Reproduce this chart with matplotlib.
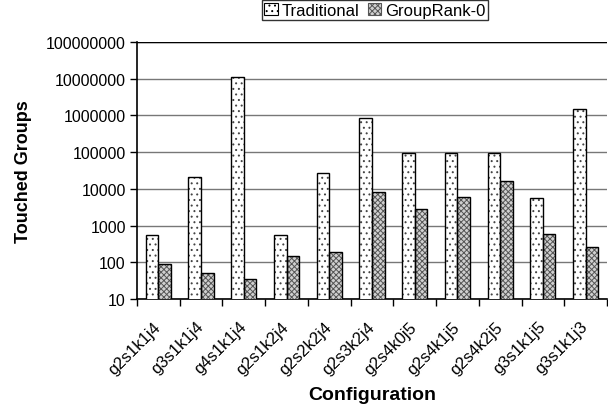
import matplotlib
matplotlib.use("Agg")
import matplotlib.pyplot as plt
import numpy as np
from matplotlib.patches import Patch

plt.rcParams['font.family'] = ['Liberation Sans', 'DejaVu Sans']
plt.rcParams['hatch.linewidth'] = 0.7

configs = ["g2s1k1j4", "g3s1k1j4", "g4s1k1j4", "g2s1k2j4", "g2s2k2j4", "g2s3k2j4",
           "g2s4k0j5", "g2s4k1j5", "g2s4k2j5", "g3s1k1j5", "g3s1k1j3"]
traditional = [565, 21500, 11000000, 565, 27000, 870000, 95000, 95000, 95000, 5550, 1480000]
grouprank0 = [88, 52, 36, 148, 190, 8100, 2800, 6150, 16800, 580, 266]
ytick_vals = [10, 100, 1000, 10000, 100000, 1000000, 10000000, 100000000]

fig = plt.figure(figsize=(6.08, 4.14), dpi=100)
ax = fig.add_axes([0.2253, 0.2754, 0.773, 0.6207])

x = np.arange(len(configs))
w = 0.295
ax.bar(x - w/2, traditional, width=w, bottom=1e-9, facecolor='white', edgecolor='#444444',
       hatch='...', linewidth=0, zorder=3)
ax.bar(x - w/2, traditional, width=w, bottom=1e-9, facecolor='none', edgecolor='black',
       linewidth=1.0, zorder=4)
ax.bar(x + w/2, grouprank0, width=w, bottom=1e-9, facecolor='#d0d0d0', edgecolor='#555555',
       hatch='xxxxxx', linewidth=0, zorder=3)
ax.bar(x + w/2, grouprank0, width=w, bottom=1e-9, facecolor='none', edgecolor='black',
       linewidth=1.0, zorder=4)

h1 = Patch(facecolor='white', edgecolor='black', hatch='...', linewidth=0.8)
h2 = Patch(facecolor='#d0d0d0', edgecolor='#555555', hatch='xxxxxx', linewidth=0.8)

ax.set_yscale('log')
ax.set_ylim(10, 1e8)
ax.set_xlim(-0.5, len(configs) - 0.5)
ax.set_yticks(ytick_vals)
ax.set_yticklabels([str(v) for v in ytick_vals])
ax.yaxis.set_minor_locator(matplotlib.ticker.NullLocator())
ax.tick_params(axis='y', which='major', direction='out', length=5, width=1, labelsize=11.5, pad=3)

ax.set_xticks(x)
ax.set_xticklabels(configs, rotation=45, ha='right', va='center', rotation_mode='anchor',
                   fontsize=12)
ax.tick_params(axis='x', which='major', length=0, pad=18)
ax.set_xticks(np.arange(len(configs) + 1) - 0.5, minor=True)
ax.tick_params(axis='x', which='minor', direction='out', length=5, width=1)

ax.grid(axis='y', which='major', color='#777777', linewidth=1.0, zorder=0)
ax.set_axisbelow(True)
for s in ['top', 'right']:
    ax.spines[s].set_visible(False)
for s in ['left', 'bottom']:
    ax.spines[s].set_linewidth(1.2)
ax.axhline(1e8, color='black', linewidth=1.0, zorder=1)

ax.set_xlabel('Configuration', fontsize=14, fontweight='bold', labelpad=7)
ax.set_ylabel('Touched Groups', fontsize=13, fontweight='bold', labelpad=10)

leg = fig.legend([h1, h2], ['Traditional', 'GroupRank-0'], loc='upper center',
                 bbox_to_anchor=(0.617, 0.997), ncol=2, fontsize=12,
                 frameon=True, fancybox=False, edgecolor='black', handlelength=0.8,
                 handleheight=0.8, handletextpad=0.25, columnspacing=0.5, borderpad=0.15,
                 borderaxespad=0)
leg.get_frame().set_linewidth(1.0)

fig.savefig('out.png', dpi=100)
